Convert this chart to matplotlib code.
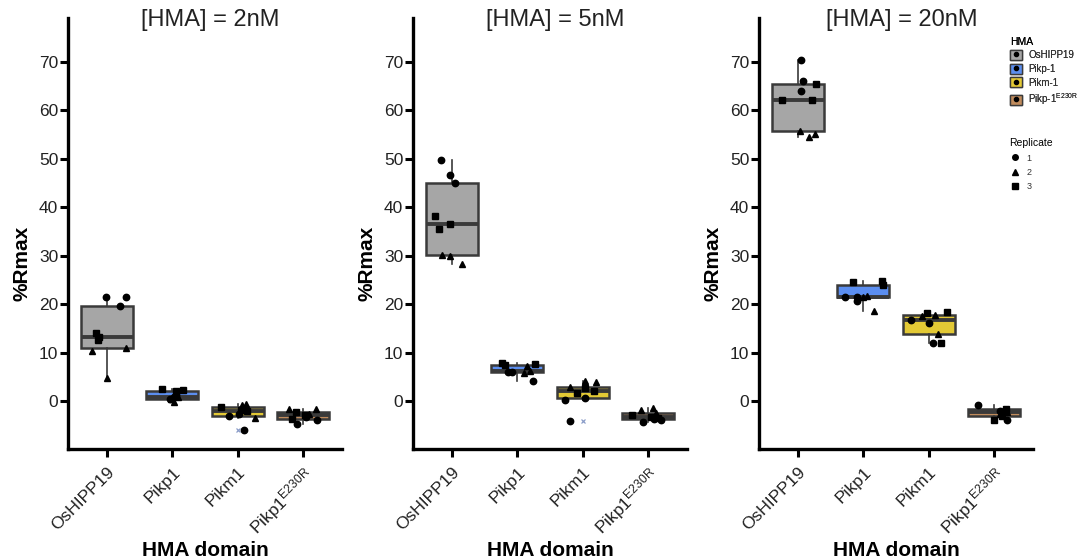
import matplotlib
matplotlib.use("Agg")
import matplotlib.pyplot as plt
from matplotlib.patches import Patch
from matplotlib.lines import Line2D

plt.rcParams['font.family'] = ['Liberation Sans', 'DejaVu Sans']
plt.rcParams['mathtext.fontset'] = 'custom'
plt.rcParams['mathtext.rm'] = 'Liberation Sans'
plt.rcParams['mathtext.it'] = 'Liberation Sans'

categories = ['OsHIPP19', 'Pikp1', 'Pikm1', 'Pikp1$^{\\mathrm{E230R}}$']
legend_names = ['OsHIPP19', 'Pikp-1', 'Pikm-1', 'Pikp-1$^{\\mathrm{E230R}}$']
concs = ['2nM', '5nM', '20nM']
box_colors = ['#a6a6a6', '#5b8ef0', '#e3c935', '#c08b5c']

# %Rmax per replicate, one list per HMA domain (OsHIPP19, Pikp1, Pikm1, Pikp1 E230R)
rep1_2nM = [[21.6, 21.6, 19.7], [1.0, 1.3, 0.6], [-3.0, -2.6, -5.9], [-4.6, -3.8, -3.2]]
rep2_2nM = [[10.3, 11.0, 4.8], [-0.2, 0.4, 1.0], [-0.7, -0.6, -3.5], [-1.5, -1.5, -2.6]]
rep3_2nM = [[14.1, 13.3, 12.7], [2.5, 2.4, 2.2], [-1.2, -1.9, -1.8], [-2.2, -3.7, -2.8]]

rep1_5nM = [[49.8, 46.6, 45.0], [6.0, 6.0, 4.3], [0.3, 0.8, -4.0], [-4.2, -3.8, -3.7]]
rep2_5nM = [[30.1, 30.0, 28.4], [7.2, 6.3, 5.8], [2.9, 4.2, 4.0], [-1.8, -1.4, -2.3]]
rep3_5nM = [[38.3, 36.6, 35.5], [8.0, 7.5, 7.7], [1.8, 2.8, 2.2], [-2.8, -3.3, -3.4]]

rep1_20nM = [[70.4, 66.1, 63.9], [21.5, 20.7, 21.6], [16.8, 16.1, 12.0], [-0.8, -3.9, -2.0]]
rep2_20nM = [[55.8, 54.5, 55.2], [21.8, 18.7, 21.6], [17.5, 13.9, 17.8], [-1.5, -2.2, -2.6]]
rep3_20nM = [[62.2, 62.1, 65.4], [24.7, 24.9, 24.0], [18.3, 18.4, 12.1], [-3.8, -3.0, -1.6]]

# horizontal jitter of the points
jit1_2nM = [[-0.02, 0.29, 0.20], [0.02, 0.06, -0.03], [-0.13, 0.02, 0.10], [-0.09, 0.21, 0.05]]
jit2_2nM = [[-0.23, 0.29, 0.00], [0.03, -0.02, 0.08], [0.06, 0.13, 0.27], [-0.21, 0.20, 0.10]]
jit3_2nM = [[-0.17, -0.12, -0.14], [-0.16, 0.17, 0.05], [-0.25, 0.14, 0.05], [-0.10, -0.17, 0.03]]

jit1_5nM = [[-0.17, -0.03, 0.04], [-0.14, -0.08, 0.24], [-0.27, 0.03, -0.19], [-0.08, 0.20, 0.10]]
jit2_5nM = [[-0.15, -0.04, 0.15], [0.14, 0.19, 0.10], [-0.20, 0.04, 0.20], [-0.10, 0.08, 0.12]]
jit3_5nM = [[-0.26, -0.03, -0.20], [-0.23, -0.19, 0.27], [-0.09, 0.03, 0.18], [-0.25, 0.05, 0.15]]

jit1_20nM = [[0.04, 0.08, 0.05], [-0.28, -0.10, -0.10], [-0.27, 0.00, 0.07], [-0.25, 0.20, 0.10]]
jit2_20nM = [[0.03, 0.17, 0.26], [0.06, 0.17, 0.00], [-0.10, 0.15, 0.10], [0.15, 0.20, 0.10]]
jit3_20nM = [[-0.25, 0.22, 0.27], [-0.16, 0.28, 0.30], [-0.02, 0.28, 0.19], [0.00, 0.12, 0.18]]

reps = {'2nM': (rep1_2nM, rep2_2nM, rep3_2nM),
        '5nM': (rep1_5nM, rep2_5nM, rep3_5nM),
        '20nM': (rep1_20nM, rep2_20nM, rep3_20nM)}
jits = {'2nM': (jit1_2nM, jit2_2nM, jit3_2nM),
        '5nM': (jit1_5nM, jit2_5nM, jit3_5nM),
        '20nM': (jit1_20nM, jit2_20nM, jit3_20nM)}
rep_markers = ['o', '^', 's']

fig = plt.figure(figsize=(10.89, 5.59), dpi=100)
lefts = [68, 413, 759]
edge = '#3a3a3a'

for conc, left in zip(concs, lefts):
    ax = fig.add_axes([left / 1089, 110 / 559, 274 / 1089, 431 / 559])
    r = reps[conc]
    j = jits[conc]
    groups = [r[0][i] + r[1][i] + r[2][i] for i in range(4)]
    bp = ax.boxplot(groups, positions=range(4), widths=0.8, patch_artist=True,
                    showcaps=False, whis=1.5,
                    boxprops=dict(edgecolor=edge, linewidth=1.8),
                    medianprops=dict(color=edge, linewidth=2.8),
                    whiskerprops=dict(color=edge, linewidth=1.2),
                    flierprops=dict(marker='x', markeredgecolor='#8a9cc8', markersize=3.5,
                                    markeredgewidth=0.9))
    for patch, c in zip(bp['boxes'], box_colors):
        patch.set_facecolor(c)
    for k in range(3):
        for i in range(4):
            xs = [i + d for d in j[k][i]]
            ax.plot(xs, r[k][i], linestyle='', marker=rep_markers[k], color='black',
                    markersize=4.6 if k != 2 else 4.2, zorder=5)

    ax.set_xlim(-0.6, 3.6)
    ax.set_ylim(-9.8, 79)
    ax.set_yticks(range(0, 71, 10))
    ax.set_xticks(range(4))
    ax.set_xticklabels(categories, rotation=45, ha='right', rotation_mode='anchor',
                       fontsize=12.5, color='#222222')
    ax.tick_params(axis='y', labelsize=12.5, labelcolor='#222222', length=6, width=2.2, pad=1)
    ax.tick_params(axis='x', length=6, width=2.2, pad=5)
    for s in ['top', 'right']:
        ax.spines[s].set_visible(False)
    for s in ['left', 'bottom']:
        ax.spines[s].set_linewidth(2.4)
    ax.set_ylabel('%Rmax', fontsize=15, fontweight='bold', labelpad=2)
    ax.yaxis.set_label_coords(-0.135, 0.43)
    ax.set_xlabel('HMA domain', fontsize=15, fontweight='bold', labelpad=2)
    ax.text(0.52, 0.995, '[HMA] = ' + conc, transform=ax.transAxes, ha='center',
            va='center', fontsize=17, color='#222222')

hma_handles = [(Patch(facecolor=c, edgecolor=edge, linewidth=1.0),
                Line2D([], [], marker='o', color='black', markersize=3, linestyle=''))
               for c in box_colors]
leg1 = fig.legend(hma_handles, legend_names, title='HMA', loc='upper left',
                  bbox_to_anchor=(1001 / 1089, 1 - 28 / 559), frameon=False,
                  fontsize=7, title_fontsize=7.5, alignment='left',
                  handlelength=1.3, handleheight=1.2, handletextpad=0.6, labelspacing=0.35,
                  labelcolor='#333333')
rep_handles = [Line2D([], [], marker=m, color='black', markersize=4, linestyle='')
               for m in rep_markers]
leg2 = fig.legend(rep_handles, ['1', '2', '3'], title='Replicate', loc='upper left',
                  bbox_to_anchor=(1001 / 1089, 1 - 130 / 559), frameon=False,
                  fontsize=6.5, title_fontsize=7.5, alignment='left',
                  handlelength=1.3, handletextpad=0.6, labelspacing=0.6,
                  labelcolor='#333333')
fig.add_artist(leg1)

fig.savefig('out.png', dpi=100)
